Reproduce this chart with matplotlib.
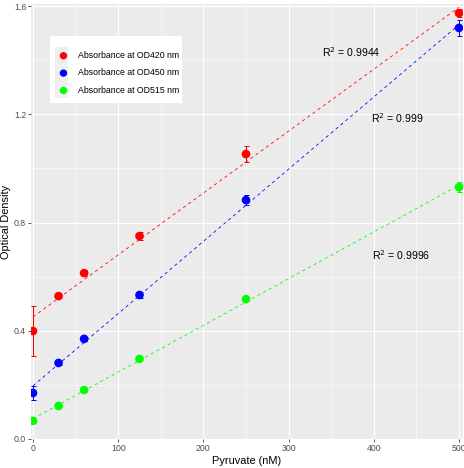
import numpy as np
import matplotlib
matplotlib.use("Agg")
import matplotlib.pyplot as plt
from matplotlib.patches import Rectangle

plt.rcParams['font.family'] = ['Liberation Sans', 'DejaVu Sans']

# data
pyruvate = [0, 30, 60, 125, 250, 500]
od420 = [0.399, 0.528, 0.613, 0.750, 1.053, 1.574]
od420_err = [0.094, 0.008, 0.010, 0.015, 0.030, 0.015]
od450 = [0.170, 0.281, 0.370, 0.532, 0.883, 1.519]
od450_err = [0.025, 0.008, 0.008, 0.010, 0.020, 0.030]
od515 = [0.067, 0.122, 0.181, 0.296, 0.517, 0.931]
od515_err = [0.005, 0.005, 0.005, 0.005, 0.005, 0.020]
labels = ['Absorbance at OD420 nm', 'Absorbance at OD450 nm', 'Absorbance at OD515 nm']
colors = ['#FF0000', '#0000FF', '#00FF00']
r2_text = ['0.9944', '0.999', '0.9996']
r2_pos = [(373, 1.43), (428, 1.186), (432, 0.68)]

W, H = 464, 468
dpi = 72
fig = plt.figure(figsize=(W / dpi, H / dpi), dpi=dpi)
ax = fig.add_axes([31 / W, 29 / H, 432 / W, 435 / H])
ax.set_facecolor('#EBEBEB')

x = np.array(pyruvate)
xx = np.linspace(0, 500, 50)
series = [(od420, od420_err), (od450, od450_err), (od515, od515_err)]
handles = []
for (y, e), c, lab in zip(series, colors, labels):
    k, b = np.polyfit(x, y, 1)
    ax.plot(xx, k * xx + b, color=c, lw=0.8, dashes=(4, 4), zorder=2)
    ax.errorbar(x, y, yerr=e, fmt='none', ecolor=c, elinewidth=1.0,
                capsize=2.5, capthick=1.0, zorder=3)
    h = ax.scatter(x, y, s=75, color=c, edgecolors='none', zorder=4, label=lab)
    handles.append(h)

for (tx, ty), r in zip(r2_pos, r2_text):
    ax.text(tx, ty, r'R$^2$ = ' + r, ha='center', va='center', fontsize=10.5,
            color='black')

ax.set_xlim(-2.35, 504.7)
ax.set_ylim(0, 1.6075)
ax.set_xticks([0, 100, 200, 300, 400, 500])
ax.set_yticks([0.0, 0.4, 0.8, 1.2, 1.6])
ax.set_yticklabels(['0.0', '0.4', '0.8', '1.2', '1.6'])
ax.set_xticks(np.arange(50, 501, 100), minor=True)
ax.set_yticks([0.2, 0.6, 1.0, 1.4], minor=True)
ax.grid(which='major', color='white', lw=1.1)
ax.grid(which='minor', color='white', lw=0.55)
ax.set_axisbelow(True)
for s in ax.spines.values():
    s.set_visible(False)
ax.tick_params(which='major', length=2.75, width=0.8, color='#333333',
               labelcolor='#4D4D4D', labelsize=8.8, pad=2)
ax.tick_params(which='minor', length=0)
ax.set_xlabel('Pyruvate (nM)', fontsize=11, labelpad=3)
ax.set_ylabel('Optical Density', fontsize=11, labelpad=3)

# legend box: white panel with grey key column, like ggplot
def px_rect(x0, y0, x1, y1, fc, z):
    r = Rectangle((x0 / W, 1 - y1 / H), (x1 - x0) / W, (y1 - y0) / H,
                  transform=fig.transFigure, facecolor=fc, edgecolor='none', zorder=z)
    fig.add_artist(r)

px_rect(50, 36, 182, 103, 'white', 5)
px_rect(55, 47, 68, 98, '#EFEFEF', 6)
leg = fig.legend(handles=handles, loc='upper left', bbox_to_anchor=(52 / W, 1 - 44 / H),
                 fontsize=8.8, frameon=False, handletextpad=1.1, labelspacing=0.95,
                 borderpad=0.3, handlelength=1.0, scatterpoints=1, markerscale=0.85)
leg.set_zorder(7)

fig.savefig('out.png', dpi=dpi)
